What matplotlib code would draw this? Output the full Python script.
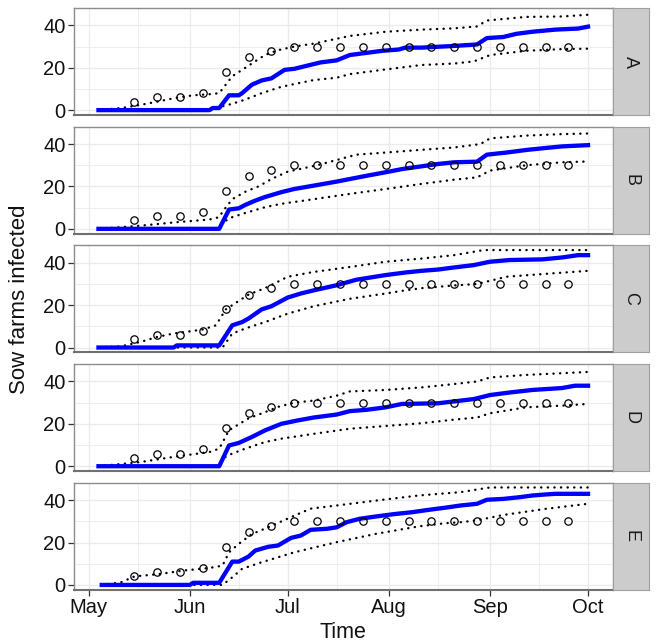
import pandas as pd
import matplotlib
import matplotlib.dates as mdates

matplotlib.use('Agg')
import matplotlib.pyplot as plt

# 字体设置
plt.rcParams['font.family'] = ['Liberation Sans', 'DejaVu Sans']

START = pd.Timestamp('2014-05-01')

# observed weekly counts (same in every panel), days after May 1
obs_days = [14, 21, 28, 35, 42, 49, 56, 63, 70, 77, 84, 91, 98, 105, 112, 119, 126, 133, 140, 147]
obs_vals = [4, 6, 6, 8, 18, 25, 28, 30, 30, 30, 30, 30, 30, 30, 30, 30, 30, 30, 30, 30]

panel_labels = ['A', 'B', 'C', 'D', 'E']

# --- A ---
a_mean_days = [3, 37, 38, 40, 43, 46, 47, 50, 53, 56, 60, 63, 67, 71, 76, 80, 85, 90, 95, 97, 102, 112, 119, 122, 127, 131, 136, 143, 150, 153]
a_mean = [0, 0, 1, 1, 7, 7, 8, 12, 14, 15, 19, 19.5, 21, 22.5, 23.5, 26, 27, 28, 28.6, 29.5, 29.5, 30.3, 31, 34, 34.5, 36, 37, 38, 38.5, 39.4]
a_hi_days = [3, 10, 16, 21, 26, 32, 37, 40, 42, 44, 48, 51, 54, 58, 63, 69, 76, 80, 91, 102, 112, 119, 122, 134, 145, 153]
a_hi = [0, 1, 2.5, 4, 5.6, 7, 7.5, 8, 12, 16, 20, 23, 26, 28.3, 30, 31.4, 33.7, 35, 37, 38, 38.6, 39.5, 42.3, 44, 44.2, 45]
a_lo_days = [3, 38, 39, 44, 48, 53, 59, 63, 69, 76, 80, 91, 102, 112, 118, 123, 134, 145, 153]
a_lo = [0, 0, 1, 3, 5, 8, 11, 12.3, 14.2, 15.3, 17, 19.2, 21.3, 22, 23, 26, 28, 28.8, 29]

# --- B ---
b_mean_days = [3, 40, 43, 46, 48, 51, 54, 59, 63, 69, 76, 80, 85, 91, 96, 102, 107, 112, 119, 122, 128, 134, 139, 145, 153]
b_mean = [0, 0, 9.1, 9.7, 11.3, 13.3, 15, 17.3, 18.8, 20.4, 22.3, 23.5, 25, 26.7, 28.2, 29.5, 30.6, 31.4, 31.7, 35, 36, 37.2, 38, 38.9, 39.5]
b_hi_days = [3, 16, 26, 37, 40, 41, 44, 48, 52, 56, 61, 70, 76, 82, 91, 102, 112, 120, 123, 134, 145, 153]
b_hi = [0, 1.5, 3, 4.4, 5.5, 8, 14, 17.5, 20, 23.5, 27, 30, 32.5, 35, 36, 37.3, 38.4, 40, 42.7, 44, 44.7, 45]
b_lo_days = [3, 40, 41, 44, 48, 54, 59, 69, 80, 91, 102, 112, 119, 123, 134, 145, 153]
b_lo = [0, 0, 3, 5.5, 7.5, 10.2, 11.8, 14, 16.5, 18.8, 21.2, 23.2, 24.3, 27.5, 30, 31.4, 31.8]

# --- C ---
c_mean_days = [3, 26, 27, 40, 44, 47, 49, 53, 56, 61, 65, 69, 76, 82, 91, 97, 102, 107, 112, 118, 123, 129, 139, 145, 150, 153]
c_mean = [0, 0, 1, 1, 10.5, 12, 13.7, 18, 19.5, 23.6, 25.5, 27, 29.4, 32, 34.2, 35.4, 36.2, 36.8, 37.8, 38.9, 40.5, 41.3, 41.6, 42.5, 43.6, 43.6]
c_hi_days = [3, 10, 16, 21, 26, 35, 39, 42, 46, 49, 54, 61, 69, 80, 91, 102, 112, 121, 134, 153]
c_hi = [0, 0.6, 2.7, 5, 6.6, 8.5, 10.5, 18, 22, 25, 28, 33.4, 35.7, 38, 40.5, 42, 43.6, 46, 46, 46]
c_lo_days = [3, 41, 44, 48, 54, 61, 69, 80, 91, 97, 102, 112, 119, 128, 142, 153]
c_lo = [0, 0, 6.6, 9, 12, 16, 19.5, 23, 25.5, 27, 28, 29.3, 30, 33.4, 35, 36.2]

# --- D ---
d_mean_days = [3, 40, 43, 46, 50, 54, 59, 64, 69, 76, 80, 85, 91, 96, 107, 112, 118, 123, 129, 136, 145, 149, 153]
d_mean = [0, 0, 9.8, 11, 13.8, 16.9, 20, 21.6, 23, 24.4, 26, 26.6, 27.8, 29.4, 29.7, 30.6, 31.7, 33.6, 34.8, 36, 36.9, 38, 38]
d_hi_days = [3, 16, 26, 37, 40, 43, 49, 54, 58, 63, 69, 76, 80, 91, 102, 112, 119, 123, 134, 145, 153]
d_hi = [0, 2, 4.4, 6.7, 8.3, 17, 22.6, 25.5, 28, 30, 31, 33.3, 35.3, 36, 37.2, 38.8, 40, 41.9, 43.1, 43.9, 44.5]
d_lo_days = [3, 40, 41, 44, 48, 54, 59, 69, 80, 91, 102, 112, 119, 123, 134, 145, 153]
d_lo = [0, 0, 3.6, 6, 8.3, 11.4, 13, 15.3, 17.7, 19, 20.3, 22, 23, 25, 27.8, 28.6, 29.4]

# --- E ---
e_mean_days = [4, 31, 32, 40, 44, 46, 49, 51, 55, 58, 62, 65, 68, 73, 76, 79, 83, 88, 94, 99, 104, 109, 114, 119, 122, 127, 132, 136, 140, 143, 153]
e_mean = [0, 0, 1, 1, 11, 11, 13.4, 16.2, 18, 18.6, 22.2, 23.3, 26, 26.5, 27.2, 29.6, 31.2, 32.3, 33.5, 34.3, 35.4, 36.4, 37.5, 38.3, 40.2, 40.6, 41.4, 42.2, 42.7, 43, 43]
e_hi_days = [4, 10, 14, 22, 29, 37, 41, 43, 46, 50, 55, 62, 68, 76, 88, 101, 114, 123, 153]
e_hi = [0, 1.3, 4, 5.2, 6.8, 8, 9.1, 15.4, 19.4, 24, 27.2, 32, 36, 37.5, 39.8, 42.2, 43.8, 46, 46]
e_lo_days = [4, 41, 44, 47, 53, 63, 76, 88, 101, 109, 114, 119, 127, 140, 153]
e_lo = [0, 0, 3.6, 7.6, 10.7, 15.4, 20.2, 24.1, 27.6, 29.1, 29.6, 30.5, 33, 35.9, 38.3]

series = {
    'A': (a_mean_days, a_mean, a_hi_days, a_hi, a_lo_days, a_lo),
    'B': (b_mean_days, b_mean, b_hi_days, b_hi, b_lo_days, b_lo),
    'C': (c_mean_days, c_mean, c_hi_days, c_hi, c_lo_days, c_lo),
    'D': (d_mean_days, d_mean, d_hi_days, d_hi, d_lo_days, d_lo),
    'E': (e_mean_days, e_mean, e_hi_days, e_hi, e_lo_days, e_lo),
}


def to_dates(days):
    return START + pd.to_timedelta(days, unit='D')


W, H = 656, 642


def px_box(left, top, right, bottom):
    return [left / W, 1 - bottom / H, (right - left) / W, (bottom - top) / H]


fig = plt.figure(figsize=(W / 100, H / 100), dpi=100)

panel_left, panel_right, strip_right = 74, 612.5, 649
panel_h, step = 107, 118.7
xlim = (to_dates([-4.5])[0], to_dates([160.5])[0])
border = '#8c8c8c'
grid = '#ebebeb'

for i, lab in enumerate(panel_labels):
    top = 8 + i * step
    bottom = top + panel_h
    ax = fig.add_axes(px_box(panel_left, top, panel_right, bottom))
    md, mv, hd, hv, ld, lv = series[lab]

    # 置信区间（点线）
    for dd, vv in ((hd, hv), (ld, lv)):
        ax.plot(to_dates(dd), vv, color='black', lw=1.7,
                linestyle=(0, (0.1, 2.7)), dash_capstyle='round', zorder=2)
    # 模拟均值
    ax.plot(to_dates(md), mv, color='#0000ff', lw=3.1, zorder=3,
            solid_joinstyle='round')
    # 观测值
    ax.plot(to_dates(obs_days), obs_vals, linestyle='none', marker='o',
            markersize=5.3, markerfacecolor='none', markeredgecolor='black',
            markeredgewidth=0.9, zorder=4)

    ax.set_xlim(xlim)
    ax.set_ylim(-2.3, 48.2)
    ax.set_yticks([0, 20, 40])
    ax.set_yticks([10, 30], minor=True)
    ax.xaxis.set_major_locator(mdates.MonthLocator())
    ax.xaxis.set_minor_locator(mdates.MonthLocator(bymonthday=16))
    ax.xaxis.set_major_formatter(mdates.DateFormatter('%b'))
    ax.grid(True, which='major', color=grid, lw=1.0, zorder=0)
    ax.grid(True, which='minor', color=grid, lw=0.6, zorder=0)
    ax.set_axisbelow(True)
    ax.tick_params(axis='y', which='major', length=4, width=0.9, color='#333333',
                   labelsize=14.5, pad=2, labelcolor='#111111')
    ax.tick_params(axis='both', which='minor', length=0)
    if i < len(panel_labels) - 1:
        ax.tick_params(axis='x', which='major', length=0, labelbottom=False)
    else:
        ax.tick_params(axis='x', which='major', length=4, width=0.9, color='#333333',
                       labelsize=14.5, pad=2, labelcolor='#111111')
    for side, sp in ax.spines.items():
        sp.set_color(border)
        sp.set_linewidth(1.0)
    ax.spines['bottom'].set_linewidth(1.5)
    ax.spines['bottom'].set_color('#707070')

    # 右侧分面标签
    sax = fig.add_axes(px_box(panel_right, top, strip_right, bottom))
    sax.set_facecolor('#cccccc')
    sax.set_xticks([])
    sax.set_yticks([])
    for sp in sax.spines.values():
        sp.set_color('#a0a0a0')
        sp.set_linewidth(0.8)
    sax.text(0.5, 0.5, lab, rotation=-90, ha='center', va='center',
             fontsize=13, color='#1a1a1a', transform=sax.transAxes)

fig.text(20 / W, 1 - 299 / H, 'Sow farms infected', rotation=90,
         ha='center', va='center', fontsize=16, color='#111111')
fig.text(343 / W, 1 - 632 / H, 'Time', ha='center', va='center',
         fontsize=15.5, color='#111111')

plt.savefig('out.png', dpi=100)
plt.close()
